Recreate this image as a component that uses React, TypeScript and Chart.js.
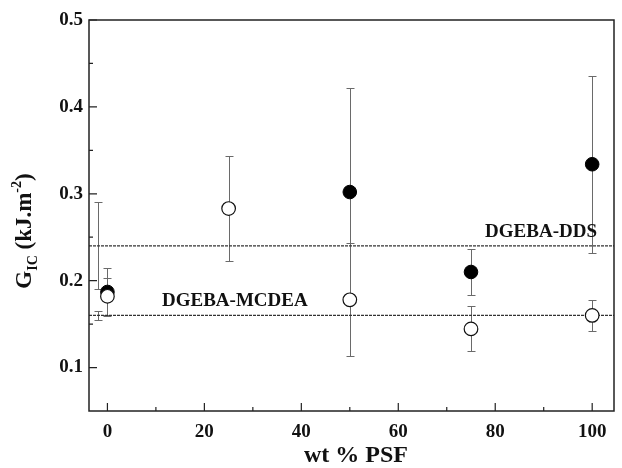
import React, { useEffect, useRef } from "react";
import { Chart, registerables } from "chart.js";

Chart.register(...registerables);

// ---- data ----
const filledWt = [0, 50, 75, 100];
const filledG = [0.187, 0.302, 0.21, 0.334];
const filledErr = [0.028, 0.12, 0.027, 0.102];

const openWt = [0, 25, 50, 75, 100];
const openG = [0.182, 0.283, 0.178, 0.1445, 0.16];
const openErr = [0.021, 0.06, 0.065, 0.026, 0.018];

const refWt = [-2, -2];
const refG = [0.24, 0.16];
const refErr = [0.05, 0.005];

const ddsLevel = 0.24;
const mcdeaLevel = 0.16;

const xTicks = [0, 20, 40, 60, 80, 100];
const xMinorTicks = [10, 30, 50, 70, 90];
const yTicks = [0.1, 0.2, 0.3, 0.4, 0.5];
const yMinorTicks = [0.15, 0.25, 0.35, 0.45];

const X_MIN = -3.8;
const X_MAX = 104.5;
const Y_MIN = 0.05;
const Y_MAX = 0.5;

const FONT = '"Liberation Serif", "Times New Roman", serif';

const errorBarPlugin = {
  id: "errorBars",
  beforeDatasetsDraw(chart: any) {
    const ctx = chart.ctx;
    const xs = chart.scales.x;
    const ys = chart.scales.y;
    ctx.save();
    ctx.strokeStyle = "#6a6a6a";
    ctx.lineWidth = 1;
    chart.data.datasets.forEach((ds: any) => {
      if (!ds.errors) return;
      ds.data.forEach((p: any, j: number) => {
        const e = ds.errors[j];
        const px = Math.round(xs.getPixelForValue(p.x)) + 0.5;
        const yt = Math.round(ys.getPixelForValue(p.y + e)) + 0.5;
        const yb = Math.round(ys.getPixelForValue(p.y - e)) + 0.5;
        const cw = 4;
        ctx.beginPath();
        ctx.moveTo(px, yt);
        ctx.lineTo(px, yb);
        ctx.moveTo(px - cw, yt);
        ctx.lineTo(px + cw, yt);
        ctx.moveTo(px - cw, yb);
        ctx.lineTo(px + cw, yb);
        ctx.stroke();
      });
    });
    ctx.restore();
  },
};

const framePlugin = {
  id: "frame",
  afterDraw(chart: any) {
    const ctx = chart.ctx;
    const a = chart.chartArea;
    const xs = chart.scales.x;
    const ys = chart.scales.y;
    ctx.save();
    ctx.strokeStyle = "#222";
    ctx.lineWidth = 1.5;
    ctx.strokeRect(a.left, a.top, a.right - a.left, a.bottom - a.top);
    ctx.lineWidth = 1.2;
    ctx.beginPath();
    xTicks.forEach((v) => {
      const px = xs.getPixelForValue(v);
      ctx.moveTo(px, a.bottom);
      ctx.lineTo(px, a.bottom - 8);
    });
    xMinorTicks.forEach((v) => {
      const px = xs.getPixelForValue(v);
      ctx.moveTo(px, a.bottom);
      ctx.lineTo(px, a.bottom - 4);
    });
    yTicks.forEach((v) => {
      const py = ys.getPixelForValue(v);
      ctx.moveTo(a.left, py);
      ctx.lineTo(a.left + 8, py);
    });
    yMinorTicks.forEach((v) => {
      const py = ys.getPixelForValue(v);
      ctx.moveTo(a.left, py);
      ctx.lineTo(a.left + 4, py);
    });
    ctx.stroke();

    // annotation labels
    ctx.fillStyle = "#111";
    ctx.font = `bold 19px ${FONT}`;
    ctx.textBaseline = "alphabetic";
    ctx.textAlign = "right";
    ctx.fillText("DGEBA-DDS", 597, 237);
    ctx.textAlign = "left";
    ctx.fillText("DGEBA-MCDEA", 162, 306);

    // x title
    ctx.textAlign = "center";
    ctx.font = `bold 24px ${FONT}`;
    ctx.fillText("wt % PSF", 356, 462);

    // y title with subscript / superscript
    const big = `bold 23px ${FONT}`;
    const small = `bold 14px ${FONT}`;
    const parts = [
      { t: "G", f: big, dy: 0 },
      { t: "IC", f: small, dy: 6 },
      { t: " (kJ.m", f: big, dy: 0 },
      { t: "-2", f: small, dy: -10 },
      { t: ")", f: big, dy: 0 },
    ];
    let total = 0;
    parts.forEach((p) => {
      ctx.font = p.f;
      total += ctx.measureText(p.t).width;
    });
    ctx.translate(31, 231);
    ctx.rotate(-Math.PI / 2);
    ctx.textAlign = "left";
    let cx = -total / 2;
    parts.forEach((p) => {
      ctx.font = p.f;
      ctx.fillText(p.t, cx, p.dy);
      cx += ctx.measureText(p.t).width;
    });
    ctx.restore();
  },
};

export default function App() {
  const ref = useRef<HTMLCanvasElement | null>(null);

  useEffect(() => {
    if (!ref.current) return;
    const toPts = (xs: number[], ys: number[]) => xs.map((x, i) => ({ x, y: ys[i] }));
    const chart = new Chart(ref.current, {
      type: "scatter",
      data: {
        datasets: [
          {
            label: "open",
            data: toPts(openWt, openG),
            errors: openErr,
            pointRadius: 6.8,
            pointHoverRadius: 6.8,
            pointBackgroundColor: "#fff",
            pointBorderColor: "#111",
            pointBorderWidth: 1.2,
            order: 1,
          } as any,
          {
            label: "filled",
            data: toPts(filledWt, filledG),
            errors: filledErr,
            pointRadius: 6.8,
            pointHoverRadius: 6.8,
            pointBackgroundColor: "#000",
            pointBorderColor: "#000",
            pointBorderWidth: 1,
            order: 2,
          } as any,
          {
            label: "ref",
            data: toPts(refWt, refG),
            errors: refErr,
            pointRadius: 0,
            order: 3,
          } as any,
          {
            label: "DDS",
            type: "line",
            data: [
              { x: X_MIN, y: ddsLevel },
              { x: X_MAX, y: ddsLevel },
            ],
            borderColor: "#333",
            borderWidth: 1.2,
            borderDash: [3, 1],
            pointRadius: 0,
            order: 4,
          } as any,
          {
            label: "MCDEA",
            type: "line",
            data: [
              { x: X_MIN, y: mcdeaLevel },
              { x: X_MAX, y: mcdeaLevel },
            ],
            borderColor: "#333",
            borderWidth: 1.2,
            borderDash: [3, 1],
            pointRadius: 0,
            order: 4,
          } as any,
        ],
      },
      options: {
        animation: false,
        responsive: true,
        maintainAspectRatio: false,
        layout: { padding: { top: 20, right: 4, left: 0, bottom: 0 } },
        plugins: { legend: { display: false }, tooltip: { enabled: false } },
        scales: {
          x: {
            type: "linear",
            min: X_MIN,
            max: X_MAX,
            grid: { display: false, drawTicks: false },
            border: { display: false },
            afterBuildTicks: (s: any) => {
              s.ticks = xTicks.map((v) => ({ value: v }));
            },
            afterFit: (s: any) => {
              s.height = 57;
            },
            ticks: {
              padding: 10,
              color: "#111",
              font: { family: FONT, size: 19, weight: "bold" },
              maxRotation: 0,
            },
          },
          y: {
            type: "linear",
            min: Y_MIN,
            max: Y_MAX,
            grid: { display: false, drawTicks: false },
            border: { display: false },
            afterBuildTicks: (s: any) => {
              s.ticks = yTicks.map((v) => ({ value: v }));
            },
            afterFit: (s: any) => {
              s.width = 89;
            },
            ticks: {
              padding: 6,
              color: "#111",
              font: { family: FONT, size: 19, weight: "bold" },
              callback: (v: any) => Number(v).toFixed(1),
            },
          },
        },
      } as any,
      plugins: [errorBarPlugin, framePlugin],
    });
    return () => chart.destroy();
  }, []);

  return (
    <div style={{ position: "fixed", left: 0, top: 0, width: 622, height: 468, background: "#fff" }}>
      <canvas ref={ref} />
    </div>
  );
}
